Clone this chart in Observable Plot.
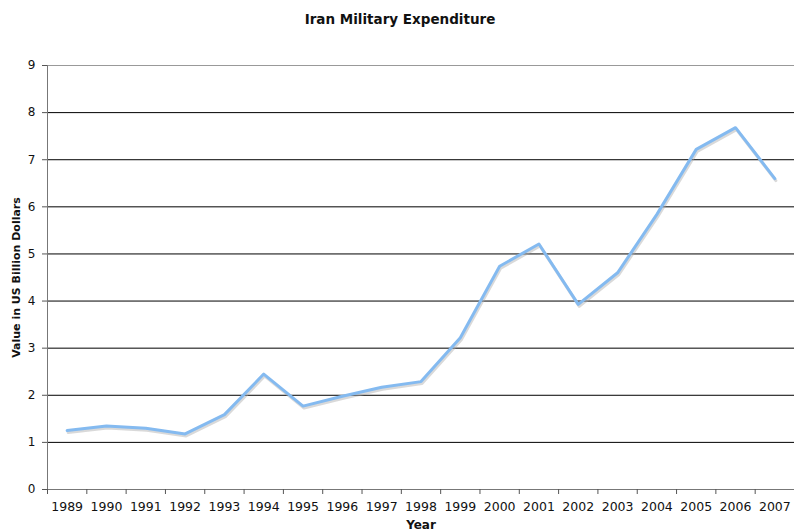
<!DOCTYPE html>
<html>
<head>
<meta charset="utf-8">
<script src="https://cdn.jsdelivr.net/npm/d3@7"></script>
<script src="https://cdn.jsdelivr.net/npm/@observablehq/plot@0.6"></script>
<style>
  body { margin: 0; background: #fff; font-family: "DejaVu Sans", Verdana, sans-serif; }
  #title { height: 40px; line-height: 38px; text-align: center; font-weight: bold; font-size: 13.5px; color: #111; padding-left: 6px; }
</style>
</head>
<body>
<div id="title">Iran Military Expenditure</div>
<div id="chart"></div>
<script>
const years = [1989,1990,1991,1992,1993,1994,1995,1996,1997,1998,1999,2000,2001,2002,2003,2004,2005,2006,2007];
const values = [1.25,1.35,1.30,1.18,1.59,2.45,1.77,1.98,2.17,2.29,3.22,4.74,5.21,3.93,4.60,5.84,7.22,7.68,6.60];
const yTicks = [0,1,2,3,4,5,6,7,8,9];
const yLabel = "Value in US Billion Dollars";
const xLabel = "Year";

const data = years.map((y, i) => ({year: y, value: values[i]}));
const bounds = d3.range(years[0] - 0.5, years[years.length - 1] + 1, 1);

const chart = Plot.plot({
  width: 794,
  height: 491,
  marginTop: 25,
  marginLeft: 47,
  marginRight: 0,
  marginBottom: 42,
  style: {fontFamily: "DejaVu Sans, Verdana, sans-serif", fontSize: "12px", color: "#111", background: "#fff"},
  x: {domain: [years[0] - 0.5, years[years.length - 1] + 0.5]},
  y: {domain: [0, 9]},
  marks: [
    Plot.ruleY(yTicks.filter(d => d > 0 && d < 9), {stroke: "#000", strokeWidth: 1}),
    Plot.ruleY([9], {stroke: "#999", strokeWidth: 1}),
    Plot.line(data, {x: "year", y: "value", stroke: "#aaa", strokeWidth: 3, strokeOpacity: 0.45, dx: 1, dy: 2}),
    Plot.line(data, {x: "year", y: "value", stroke: "#84baf0", strokeWidth: 3}),
    Plot.ruleY([0], {stroke: "#777", strokeWidth: 1}),
    Plot.ruleX([years[0] - 0.5], {stroke: "#777", strokeWidth: 1}),
    Plot.axisY({ticks: yTicks, tickSize: 5, tickPadding: 7, label: null, stroke: "#555"}),
    Plot.axisX({ticks: years, tickSize: 0, tickPadding: 13, tickFormat: d => String(d), label: null, fontSize: 12.5}),
    Plot.axisX({ticks: bounds, tickSize: 5, tickFormat: () => "", label: null, stroke: "#555"}),
    Plot.text([yLabel], {text: d => d, frameAnchor: "left", textAnchor: "middle", rotate: -90, dx: -31, fontWeight: "bold", fontSize: 11}),
    Plot.text([xLabel], {text: d => d, frameAnchor: "bottom", dy: 39, fontWeight: "bold", fontSize: 12})
  ]
});
document.getElementById("chart").appendChild(chart);
</script>
</body>
</html>
